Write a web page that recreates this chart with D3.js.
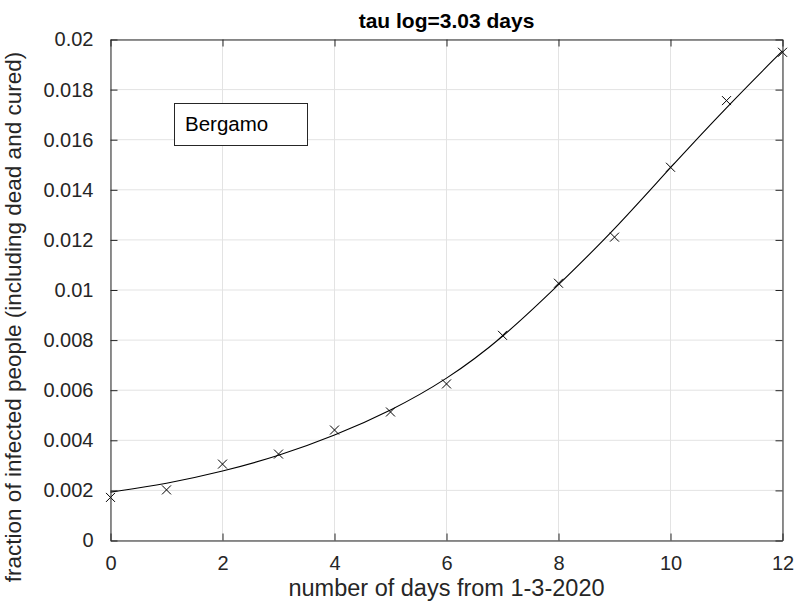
<!DOCTYPE html>
<html>
<head>
<meta charset="utf-8">
<script src="https://cdn.jsdelivr.net/npm/d3@7"></script>
<style>
  body { margin: 0; background: #fff; }
  text { font-family: "Liberation Sans", Arial, sans-serif; fill: #262626; }
</style>
</head>
<body>
<div id="chart"></div>
<script>
// days since 1-3-2020
var days = [0, 1, 2, 3, 4, 5, 6, 7, 8, 9, 10, 11, 12];
// observed fraction of infected people (Bergamo)
var observed = [0.00172, 0.00202, 0.00305, 0.00345, 0.00441, 0.00513, 0.00625, 0.00819, 0.01027, 0.01211, 0.0149, 0.01756, 0.01949];
// fitted logistic curve
var fitted = [0.00193, 0.00226, 0.00275, 0.00337, 0.00418, 0.00517, 0.00641, 0.00808, 0.0102, 0.0124, 0.0149, 0.0173, 0.01955];

var xTicks = [0, 2, 4, 6, 8, 10, 12];
var yTicks = [0, 0.002, 0.004, 0.006, 0.008, 0.01, 0.012, 0.014, 0.016, 0.018, 0.02];
var yTickLabels = ['0', '0.002', '0.004', '0.006', '0.008', '0.01', '0.012', '0.014', '0.016', '0.018', '0.02'];

var titleText = 'tau log=3.03 days';
var xLabel = 'number of days from 1-3-2020';
var yLabel = 'fraction of infected people (including dead and cured)';
var legendText = 'Bergamo';

createChart();

function createChart() {
    const width = 795, height = 609;
    const mLeft = 110.5, mRight = 782.5, mTop = 39.5, mBottom = 540.5;

    const svg = d3.select('#chart').append('svg')
        .attr('width', width)
        .attr('height', height);

    const x = d3.scaleLinear().domain([0, 12]).range([mLeft, mRight]);
    const y = d3.scaleLinear().domain([0, 0.02]).range([mBottom, mTop]);

    // grid
    svg.append('g').selectAll('line')
        .data(xTicks)
        .enter().append('line')
        .attr('x1', d => x(d)).attr('x2', d => x(d))
        .attr('y1', mTop).attr('y2', mBottom)
        .attr('stroke', '#e3e3e3').attr('stroke-width', 1);

    svg.append('g').selectAll('line')
        .data(yTicks)
        .enter().append('line')
        .attr('x1', mLeft).attr('x2', mRight)
        .attr('y1', d => y(d)).attr('y2', d => y(d))
        .attr('stroke', '#e3e3e3').attr('stroke-width', 1);

    // fitted curve
    const line = d3.line()
        .x((d, i) => x(days[i]))
        .y(d => y(d))
        .curve(d3.curveBasis);

    svg.append('path')
        .datum(fitted)
        .attr('d', line)
        .attr('fill', 'none')
        .attr('stroke', '#000')
        .attr('stroke-width', 1.1);

    // observed points as crosses
    const m = 4.5;
    svg.append('g').selectAll('path')
        .data(observed)
        .enter().append('path')
        .attr('d', (d, i) => {
            const cx = x(days[i]), cy = y(d);
            return 'M' + (cx - m) + ',' + (cy - m) + 'L' + (cx + m) + ',' + (cy + m) +
                   'M' + (cx - m) + ',' + (cy + m) + 'L' + (cx + m) + ',' + (cy - m);
        })
        .attr('stroke', '#000')
        .attr('stroke-width', 1)
        .attr('fill', 'none');

    // axes (box with ticks inside on all four sides)
    const tickLen = 7;
    const axisColor = '#262626';

    const xAxisB = d3.axisBottom(x).tickValues(xTicks).tickSizeInner(-tickLen).tickSizeOuter(0).tickPadding(15);
    const xAxisT = d3.axisTop(x).tickValues(xTicks).tickSizeInner(-tickLen).tickSizeOuter(0).tickFormat('');
    const yAxisL = d3.axisLeft(y).tickValues(yTicks).tickSizeInner(-tickLen).tickSizeOuter(0).tickPadding(17)
        .tickFormat((d, i) => yTickLabels[i]);
    const yAxisR = d3.axisRight(y).tickValues(yTicks).tickSizeInner(-tickLen).tickSizeOuter(0).tickFormat('');

    function styleAxis(g) {
        g.select('.domain').attr('stroke', axisColor).attr('stroke-width', 1);
        g.selectAll('.tick line').attr('stroke', axisColor);
        g.selectAll('.tick text')
            .attr('fill', axisColor)
            .style('font-family', '"Liberation Sans", Arial, sans-serif')
            .style('font-size', '20px');
    }

    svg.append('g').attr('transform', 'translate(0,' + mBottom + ')').call(xAxisB).call(styleAxis);
    svg.append('g').attr('transform', 'translate(0,' + mTop + ')').call(xAxisT).call(styleAxis);
    svg.append('g').attr('transform', 'translate(' + mLeft + ',0)').call(yAxisL).call(styleAxis);
    svg.append('g').attr('transform', 'translate(' + mRight + ',0)').call(yAxisR).call(styleAxis);

    // legend
    svg.append('rect')
        .attr('x', 174.5).attr('y', 103.5)
        .attr('width', 133).attr('height', 42)
        .attr('fill', '#fff')
        .attr('stroke', axisColor)
        .attr('stroke-width', 1);
    svg.append('text')
        .attr('x', 185).attr('y', 131)
        .style('font-size', '20.5px')
        .style('fill', '#000')
        .text(legendText);

    // title and labels
    svg.append('text')
        .attr('x', (mLeft + mRight) / 2).attr('y', 28)
        .attr('text-anchor', 'middle')
        .style('font-size', '21px')
        .style('font-weight', 'bold')
        .style('fill', '#000')
        .text(titleText);

    svg.append('text')
        .attr('x', (mLeft + mRight) / 2).attr('y', 596)
        .attr('text-anchor', 'middle')
        .style('font-size', '23.5px')
        .text(xLabel);

    svg.append('text')
        .attr('transform', 'translate(21,' + ((mTop + mBottom) / 2 + 27) + ') rotate(-90)')
        .attr('text-anchor', 'middle')
        .style('font-size', '22.5px')
        .text(yLabel);
}
</script>
</body>
</html>
